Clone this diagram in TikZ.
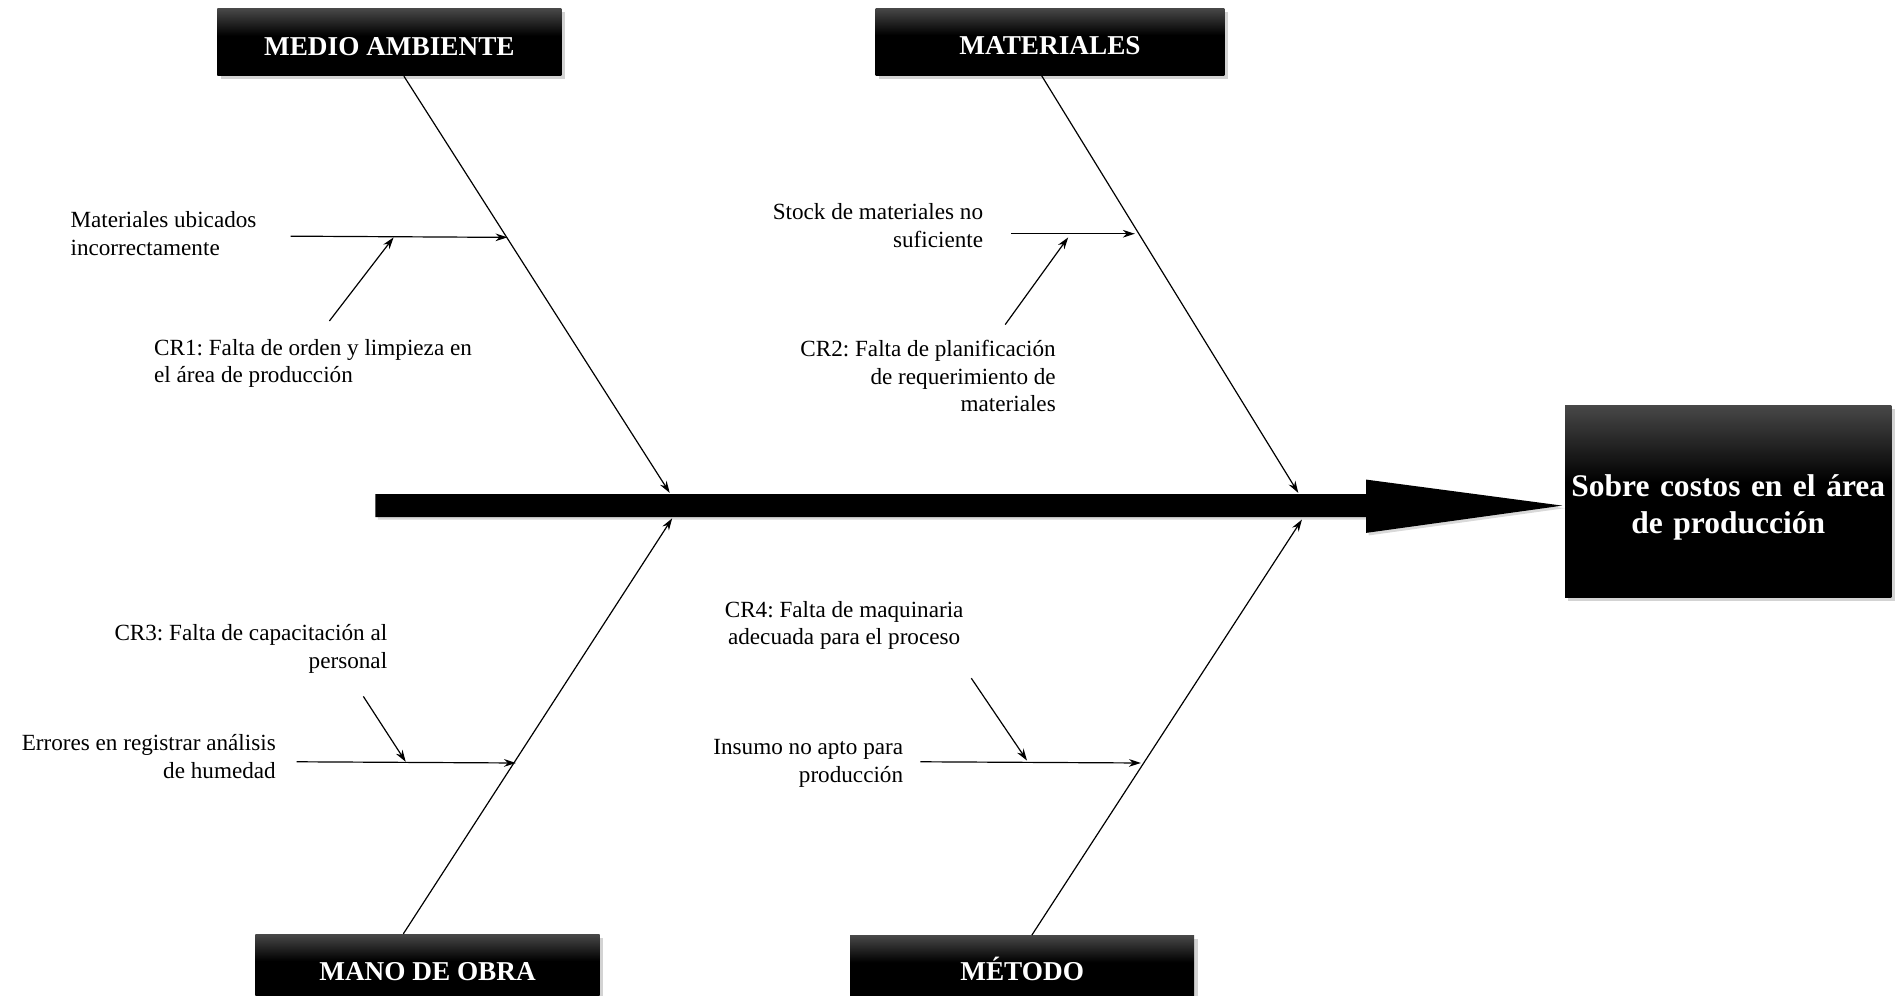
\documentclass[tikz,border=0pt]{standalone}
\usepackage{fontspec}
\setmainfont{Liberation Serif}
\usetikzlibrary{positioning,calc}
\usetikzlibrary{arrows.meta,shadows}
\frenchspacing
\pgfdeclareverticalshading{cabeza}{100bp}{color(0bp)=(black); color(25bp)=(black); color(55bp)=(black); color(75bp)=(black!72); color(100bp)=(black!72)}
\tikzstyle{categoria} = [rectangle, shade, shading=cabeza, text=white,
  font=\fontsize{16}{19}\selectfont\bfseries, minimum width=7.1cm, minimum height=1.38cm,
  drop shadow={opacity=0.35, shadow xshift=2pt, shadow yshift=-2pt}]
\tikzstyle{efecto} = [rectangle, shade, shading=cabeza, text=white,
  font=\fontsize{18.5}{22}\selectfont\bfseries, minimum width=6.65cm, minimum height=3.95cm,
  text width=6.5cm, align=center, drop shadow={opacity=0.35, shadow xshift=2pt, shadow yshift=-2pt}]
\tikzstyle{causa} = [font=\fontsize{13.6}{16.3}\selectfont, inner sep=0pt]
\tikzstyle{hueso} = [->, >={Stealth[length=7pt,width=4.5pt]}, line width=0.7pt]

\begin{document}
\begin{tikzpicture}[x=0.025cm, y=-0.025cm]

        \useasboundingbox (0,0) rectangle (1568,822);

        % espina
        \fill[drop shadow={opacity=0.3, shadow xshift=1.5pt, shadow yshift=-1.5pt}]
            (310,408) -- (1128,408) -- (1128,396) -- (1290,417.5) -- (1128,440) -- (1128,427) -- (310,427) -- cycle;

        \node[efecto] (efecto) at (1427,414) {\rule{0pt}{20pt}Sobre costos en el área\\de producción};

        \node[categoria, text height=15pt] (medio) at (321.5,35) {MEDIO AMBIENTE};
        \node[categoria, text height=15pt, minimum width=7.2cm] (materiales) at (867,34.5) {MATERIALES};
        \node[categoria, text height=15pt] (mano) at (353,799) {MANO DE OBRA};
        \node[categoria] (metodo) at (844,800) {MÉTODO};

        \coordinate (p1) at (553,407);
        \coordinate (p2) at (1072,407);
        \coordinate (p3) at (555,428);
        \coordinate (p4) at (1075,429);
        \draw[hueso] ([xshift=0.3cm]medio.south) -- (p1);
        \draw[hueso] ([xshift=-0.175cm]materiales.south) -- (p2);
        \draw[hueso] ([xshift=-0.5cm]mano.north) -- (p3);
        \draw[hueso] ([xshift=0.2cm]metodo.north) -- (p4);

        % medio ambiente
        \node[causa, anchor=west, align=left] (ubicados) at (58,193) {Materiales ubicados\\incorrectamente};
        \node[causa, anchor=west, align=left] (cr1) at (127,300) {CR1: Falta de orden y limpieza en\\el área de producción};
        \coordinate (u1) at (240,195);
        \coordinate (u2) at (419,196);
        \coordinate (c1) at (272,265);
        \coordinate (c1b) at (325,196);
        \draw[hueso] (u1) -- (u2);
        \draw[hueso] (c1) -- (c1b);

        % materiales
        \node[causa, anchor=east, align=right] (stock) at (812,186) {Stock de materiales no\\suficiente};
        \node[causa, anchor=east, align=right] (cr2) at (872,310.5) {CR2: Falta de planificación\\de requerimiento de\\materiales};
        \coordinate (s1) at (835,193);
        \coordinate (s2) at (937,193);
        \coordinate (c2) at (830,268);
        \coordinate (c2b) at (882,196);
        \draw[hueso] (s1) -- (s2);
        \draw[hueso] (c2) -- (c2b);

        % mano de obra
        \node[causa, anchor=east, align=right] (cr3) at (320,536) {CR3: Falta de capacitación al\\personal};
        \node[causa, anchor=east, align=right] (errores) at (228,624.5) {Errores en registrar análisis\\de humedad};
        \coordinate (e1) at (245,629);
        \coordinate (e2) at (426,630);
        \coordinate (c3) at (300,575);
        \coordinate (c3b) at (335,629);
        \draw[hueso] (e1) -- (e2);
        \draw[hueso] (c3) -- (c3b);

        % metodo
        \node[causa, align=center] (cr4) at (697,516.5) {CR4: Falta de maquinaria\\adecuada para el proceso};
        \node[causa, anchor=east, align=right] (insumo) at (746,630.5) {Insumo no apto para\\producción};
        \coordinate (i1) at (760,629);
        \coordinate (i2) at (942,630);
        \coordinate (c4) at (802,560);
        \coordinate (c4b) at (848,628);
        \draw[hueso] (i1) -- (i2);
        \draw[hueso] (c4) -- (c4b);

\end{tikzpicture}
\end{document}
